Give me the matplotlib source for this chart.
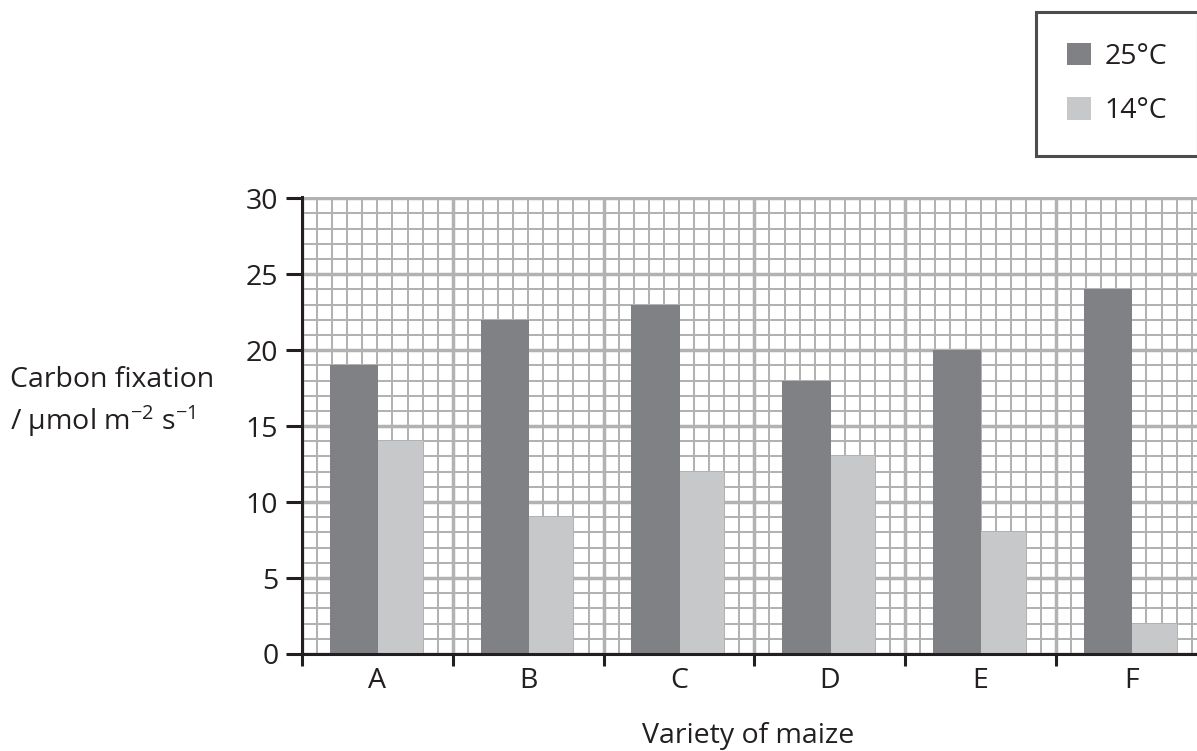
import matplotlib
matplotlib.use('Agg')
import matplotlib.pyplot as plt
from matplotlib.ticker import MultipleLocator, FuncFormatter, NullFormatter

# Datos
categories = ['A', 'B', 'C', 'D', 'E', 'F']
fix_25 = [19, 22, 23, 18, 20, 24]
fix_14 = [14, 9, 12, 13, 8, 2]
legend_labels = ['25°C', '14°C']
y_ticks = [0, 5, 10, 15, 20, 25, 30]

TEXT = '#231f20'
DARK = '#808185'
LIGHT = '#c7c8ca'
GRID = '#b2b2b2'
FS = 20.5

plt.rcParams['font.family'] = ['Open Sans', 'DejaVu Sans']
plt.rcParams['mathtext.fontset'] = 'custom'
plt.rcParams['mathtext.rm'] = 'Open Sans'
plt.rcParams['mathtext.it'] = 'Open Sans'
plt.rcParams['font.size'] = FS
plt.rcParams['text.color'] = TEXT

fig = plt.figure(figsize=(11.97, 7.51), dpi=100)
ax = fig.add_axes([302 / 1197, 1 - 654 / 751, 1 - 302 / 1197, (654 - 197) / 751])

# Cada variedad ocupa 10 celdas de la cuadricula
cells = 10
x0 = [i * cells for i in range(len(categories))]
ax.bar([x + 1.85 for x in x0], fix_25, width=3.2, align='edge', color=DARK, label=legend_labels[0], zorder=3)
ax.bar([x + 5.05 for x in x0], fix_14, width=2.95, align='edge', color=LIGHT, label=legend_labels[1], zorder=3)

ax.set_xlim(0, 59.35)
ax.set_ylim(0, 30.08)

# Cuadricula
ax.set_axisbelow(True)
ax.xaxis.set_major_locator(MultipleLocator(cells))
ax.xaxis.set_minor_locator(MultipleLocator(1))
ax.yaxis.set_major_locator(MultipleLocator(5))
ax.yaxis.set_minor_locator(MultipleLocator(1))
ax.grid(True, which='major', color=GRID, linewidth=2.5, zorder=0)
ax.grid(True, which='minor', color=GRID, linewidth=1.45, zorder=0)

# Etiquetas de categoria en el centro de cada grupo
def cat_label(x, pos):
    i = int(round(x))
    if i % cells == cells // 2 and i // cells < len(categories):
        return categories[i // cells]
    return ''

ax.xaxis.set_major_formatter(NullFormatter())
ax.xaxis.set_minor_formatter(FuncFormatter(cat_label))
ax.set_yticks(y_ticks)
ax.yaxis.set_minor_formatter(NullFormatter())

ax.tick_params(axis='x', which='major', direction='out', length=8.6, width=2.2, color=TEXT)
ax.tick_params(axis='x', which='minor', length=0, pad=9, labelsize=FS, labelcolor=TEXT)
ax.tick_params(axis='y', which='major', direction='out', length=11.5, width=2.2, color=TEXT,
               pad=5.5, labelsize=FS, labelcolor=TEXT)
ax.tick_params(axis='y', which='minor', length=0)

for side in ['top', 'right']:
    ax.spines[side].set_visible(False)
for side in ['left', 'bottom']:
    ax.spines[side].set_linewidth(2.2)
    ax.spines[side].set_color(TEXT)
    ax.spines[side].set_zorder(4)

# Titulos de ejes
fig.text(10 / 1197, 1 - 387 / 751, 'Carbon fixation', ha='left', va='baseline', fontsize=FS)
fig.text(10 / 1197, 1 - 430 / 751, r'/ μmol m$^{−2}$ s$^{−1}$', ha='left', va='baseline', fontsize=FS)
fig.text(748 / 1197, 1 - 743 / 751, 'Variety of maize', ha='center', va='baseline', fontsize=FS)

# Leyenda
leg = fig.legend(loc='upper left', bbox_to_anchor=(1036 / 1197, 1 - 12 / 751),
                 fontsize=FS, handlelength=0.84, handleheight=0.84, handletextpad=0.5,
                 labelspacing=0.92, borderpad=1.08, borderaxespad=0, fancybox=False,
                 frameon=True)
leg.get_frame().set_edgecolor(TEXT)
leg.get_frame().set_linewidth(2.2)

fig.savefig('out.png', dpi=100)
